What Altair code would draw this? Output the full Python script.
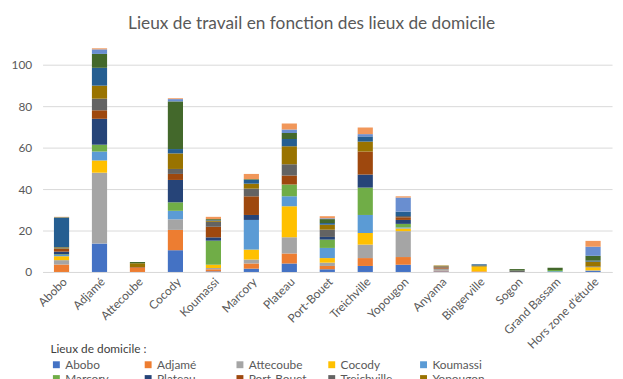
import altair as alt
import pandas as pd

work_places = ["Abobo", "Adjamé", "Attecoube", "Cocody", "Koumassi", "Marcory", "Plateau",
               "Port-Bouet", "Treichville", "Yopougon", "Anyama", "Bingerville", "Sogon",
               "Grand Bassam", "Hors zone d'étude"]

home_places = ["Abobo", "Adjamé", "Attecoube", "Cocody", "Koumassi", "Marcory", "Plateau",
               "Port-Bouet", "Treichville", "Yopougon", "Anyama", "Bingerville", "Songon",
               "Grand Bassam"]

colors = ["#4472C4", "#ED7D31", "#A5A5A5", "#FFC000", "#5B9BD5", "#70AD47", "#264478",
          "#9E480E", "#636363", "#997300", "#255E91", "#43682B", "#698ED0", "#F1975A"]

# one list per home place (series), values per work place (x category)
home_abobo       = [0.0, 13.7, 0.0, 10.5, 0.3, 1.6, 4.1, 1.3, 2.9, 3.5, 0.3, 0.0, 0.0, 0.0, 0.5]
home_adjame      = [3.6, 0.0, 2.1, 9.8, 1.0, 2.5, 4.8, 1.6, 3.8, 3.7, 0.3, 0.3, 0.0, 0.0, 0.0]
home_attecoube   = [2.1, 34.2, 0.0, 5.1, 0.6, 1.9, 7.9, 1.6, 6.5, 12.5, 1.0, 0.0, 0.0, 0.0, 0.3]
home_cocody      = [1.9, 5.9, 0.0, 0.0, 1.6, 4.8, 14.9, 2.2, 5.6, 1.3, 0.0, 2.3, 0.0, 0.0, 1.5]
home_koumassi    = [0.6, 4.3, 0.0, 4.1, 0.0, 14.3, 4.8, 4.9, 8.7, 0.5, 0.0, 0.0, 0.0, 0.4, 0.0]
home_marcory     = [0.3, 3.3, 0.0, 4.1, 11.6, 0.0, 5.7, 4.0, 13.2, 1.7, 0.0, 0.0, 0.0, 0.6, 0.0]
home_plateau     = [1.3, 12.5, 0.0, 10.8, 1.6, 2.4, 0.0, 1.3, 6.3, 1.9, 0.0, 0.0, 0.0, 0.0, 0.0]
home_portbouet   = [1.3, 4.1, 0.3, 2.9, 5.1, 9.0, 4.4, 0.0, 11.1, 1.3, 0.6, 0.0, 0.0, 0.0, 0.0]
home_treichville = [0.3, 5.6, 0.0, 2.4, 2.4, 3.7, 5.4, 3.5, 0.0, 0.6, 0.5, 0.0, 0.7, 0.0, 0.4]
home_yopougon    = [0.5, 6.3, 1.8, 7.5, 0.6, 2.4, 8.7, 2.4, 4.8, 0.0, 0.4, 0.5, 0.0, 0.0, 2.3]
home_anyama      = [14.3, 8.6, 0.0, 2.1, 0.3, 1.9, 3.5, 0.8, 2.5, 2.1, 0.0, 0.6, 0.0, 0.0, 0.5]
home_bingerville = [0.2, 6.7, 0.6, 23.0, 0.4, 0.3, 2.9, 1.9, 0.0, 0.0, 0.0, 0.0, 0.7, 1.0, 2.3]
home_songon      = [0.0, 2.2, 0.0, 1.1, 0.0, 0.0, 1.6, 0.4, 1.1, 6.8, 0.0, 0.0, 0.0, 0.0, 4.4]
home_grandbassam = [0.2, 0.5, 0.0, 0.4, 1.1, 2.5, 2.9, 1.0, 3.2, 0.6, 0.0, 0.0, 0.0, 0.0, 2.8]

series = [home_abobo, home_adjame, home_attecoube, home_cocody, home_koumassi, home_marcory,
          home_plateau, home_portbouet, home_treichville, home_yopougon, home_anyama,
          home_bingerville, home_songon, home_grandbassam]

y_ticks = [0, 20, 40, 60, 80, 100]

rows = []
for si, (name, vals) in enumerate(zip(home_places, series)):
    for wp, v in zip(work_places, vals):
        rows.append({"travail": wp, "domicile": name, "valeur": v, "ordre": si})
df = pd.DataFrame(rows)

FONT = "Lato"
GREY = "#595959"

chart = alt.Chart(df).mark_bar().encode(
    x=alt.X("travail:N", sort=work_places, title=None,
            scale=alt.Scale(paddingInner=0.6, paddingOuter=0.3),
            axis=alt.Axis(labelAngle=-45, ticks=False, domainColor="#D9D9D9",
                          labelColor=GREY, labelFontSize=12, labelFont=FONT,
                          labelPadding=4)),
    y=alt.Y("sum(valeur):Q", title=None, stack="zero",
            scale=alt.Scale(domain=[0, 110], nice=False),
            axis=alt.Axis(values=y_ticks, ticks=False, domain=False,
                          gridColor="#D9D9D9", labelColor=GREY, labelFontSize=12,
                          labelFont=FONT, labelPadding=11)),
    color=alt.Color("domicile:N", sort=home_places,
                    scale=alt.Scale(domain=home_places, range=colors),
                    legend=alt.Legend(title="Lieux de domicile :", orient="none",
                                      legendX=8, legendY=304, columns=5,
                                      direction="horizontal", symbolType="square",
                                      symbolSize=49, symbolStrokeWidth=0,
                                      labelFont=FONT, labelFontSize=12, labelColor=GREY,
                                      titleFont=FONT, titleFontSize=12, titleColor="#404040",
                                      titleFontWeight="normal", labelLimit=77,
                                      gridAlign="all", columnPadding=2, rowPadding=2,
                                      labelOffset=3, titlePadding=3)),
    order=alt.Order("ordre:Q", sort="ascending"),
    tooltip=["travail", "domicile", "valeur"],
).properties(
    width=577,
    height=231,
    title=alt.TitleParams("Lieux de travail en fonction des lieux de domicile",
                          font=FONT, fontSize=17.5, fontWeight="normal", color=GREY,
                          anchor="middle", dx=-16, offset=12),
    autosize=alt.AutoSizeParams(type="none"),
    padding={"left": 35, "top": 34, "right": 3, "bottom": 106},
).configure_view(stroke=None)

chart.save("out.html", embed_options={"renderer": "svg", "actions": False})
